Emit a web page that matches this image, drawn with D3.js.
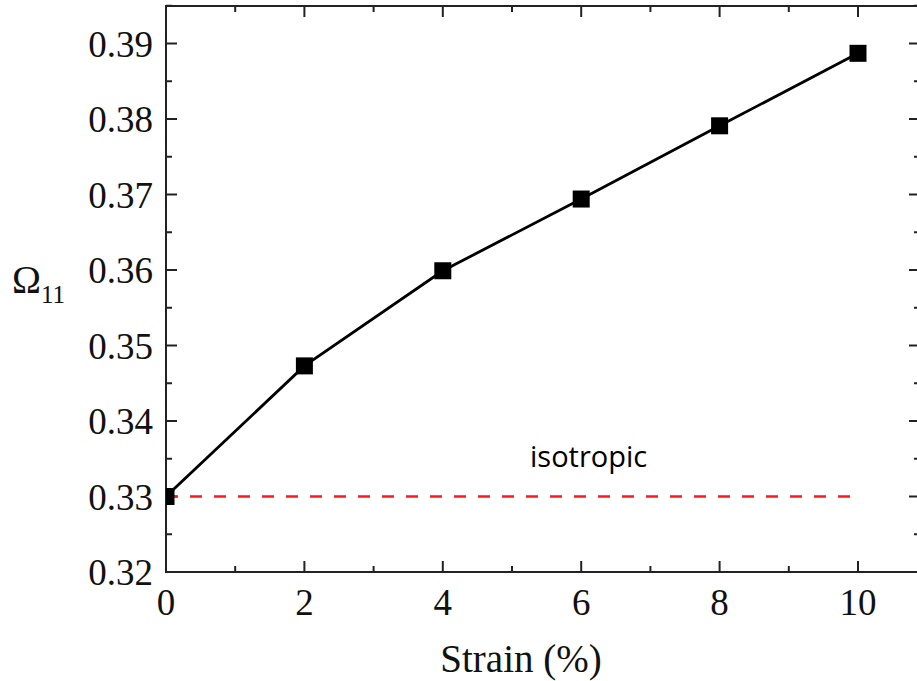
<!DOCTYPE html>
<html>
<head>
<meta charset="utf-8">
<script src="https://cdn.jsdelivr.net/npm/d3@7"></script>
<style>
  body { margin: 0; background: #fff; }
  svg { display: block; }
  .tick-label { font-family: "Liberation Serif", "Times New Roman", serif; font-size: 37px; fill: #111; }
</style>
</head>
<body>
<div id="chart"></div>
<script>
const strain = [0, 2, 4, 6, 8, 10];
const omega11 = [0.330, 0.3473, 0.3599, 0.3694, 0.3791, 0.3887];
const isotropic = 0.33;
const xTicks = [0, 2, 4, 6, 8, 10];
const yTicks = [0.32, 0.33, 0.34, 0.35, 0.36, 0.37, 0.38, 0.39];

const width = 917;
const height = 681;
const frame = { left: 166, top: 6, right: 920, bottom: 572 };

const svg = d3.select('#chart')
    .append('svg')
        .attr('width', width)
        .attr('height', height);

const x = d3.scaleLinear().domain([0, 10]).range([frame.left, 858]);
const y = d3.scaleLinear().domain([0.32, 0.39]).range([frame.bottom, 43.5]);

svg.append('defs').append('clipPath')
        .attr('id', 'plot-clip')
    .append('rect')
        .attr('x', frame.left).attr('y', frame.top)
        .attr('width', frame.right - frame.left).attr('height', frame.bottom - frame.top);

// ticks on all four sides, pointing inward
const minorX = d3.range(1, 11, 2);
const minorY = d3.range(0.325, 0.395, 0.01);

const ticks = svg.append('g').attr('stroke', '#222').attr('stroke-width', 2);
[[xTicks, 11], [minorX, 6]].forEach(([vals, len]) => {
    ticks.selectAll(null).data(vals).enter().append('line')
        .attr('x1', d => x(d)).attr('x2', d => x(d))
        .attr('y1', frame.bottom).attr('y2', frame.bottom - len);
    ticks.selectAll(null).data(vals).enter().append('line')
        .attr('x1', d => x(d)).attr('x2', d => x(d))
        .attr('y1', frame.top).attr('y2', frame.top + len);
});
[[yTicks, 11], [minorY, 6]].forEach(([vals, len]) => {
    ticks.selectAll(null).data(vals).enter().append('line')
        .attr('x1', frame.left).attr('x2', frame.left + len)
        .attr('y1', d => y(d)).attr('y2', d => y(d));
    ticks.selectAll(null).data(vals).enter().append('line')
        .attr('x1', frame.right).attr('x2', frame.right - len)
        .attr('y1', d => y(d)).attr('y2', d => y(d));
});

svg.append('rect')
    .attr('x', frame.left).attr('y', frame.top)
    .attr('width', frame.right - frame.left).attr('height', frame.bottom - frame.top)
    .attr('fill', 'none')
    .attr('stroke', '#222')
    .attr('stroke-width', 2);

// tick labels
svg.selectAll('.xl').data(xTicks).enter().append('text')
    .attr('class', 'tick-label')
    .attr('x', d => x(d))
    .attr('y', 615)
    .attr('text-anchor', 'middle')
    .text(d => d);

svg.selectAll('.yl').data(yTicks).enter().append('text')
    .attr('class', 'tick-label')
    .attr('x', 153)
    .attr('y', d => y(d) + 13)
    .attr('text-anchor', 'end')
    .text(d => d.toFixed(2));

// isotropic reference
const plot = svg.append('g').attr('clip-path', 'url(#plot-clip)');

plot.append('line')
    .attr('x1', x(0)).attr('x2', x(10))
    .attr('y1', y(isotropic)).attr('y2', y(isotropic))
    .attr('stroke', '#ff1a1a')
    .attr('stroke-width', 2.5)
    .attr('stroke-dasharray', '12,12');

const pts = strain.map((s, i) => [s, omega11[i]]);

plot.append('path')
    .attr('d', d3.line().x(d => x(d[0])).y(d => y(d[1]))(pts))
    .attr('fill', 'none')
    .attr('stroke', '#000')
    .attr('stroke-width', 2.8);

plot.selectAll('.pt').data(pts).enter().append('rect')
    .attr('x', d => x(d[0]) - 8.5)
    .attr('y', d => y(d[1]) - 8.5)
    .attr('width', 17).attr('height', 17)
    .attr('fill', '#000');

svg.append('text')
    .attr('x', 530).attr('y', 467)
    .attr('font-family', '"Open Sans", Lato, sans-serif')
    .attr('font-size', 29)
    .attr('fill', '#000')
    .text('isotropic');

// axis titles
svg.append('text')
    .attr('class', 'tick-label')
    .attr('x', 521).attr('y', 672)
    .attr('text-anchor', 'middle')
    .style('font-size', '39px')
    .text('Strain (%)');

const yt = svg.append('text')
    .attr('class', 'tick-label')
    .attr('x', 12).attr('y', 293)
    .style('font-size', '39px');
yt.append('tspan').text('Ω');
yt.append('tspan').attr('dy', 10).style('font-size', '25px').text('11');
</script>
</body>
</html>
